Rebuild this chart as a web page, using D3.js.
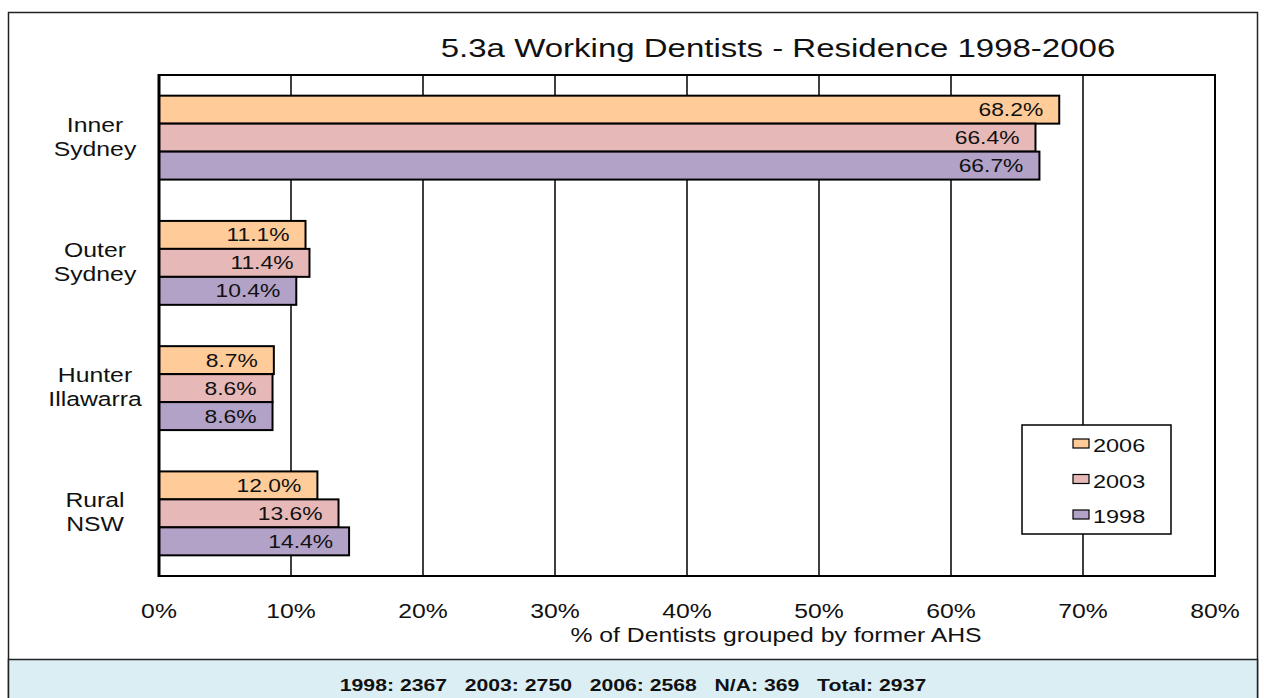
<!DOCTYPE html>
<html lang="en">
  <head>
    <meta charset="UTF-8" />
    <script src="https://d3js.org/d3.v7.min.js"></script>
    <title>Working Dentists - Residence</title>
    <style>
      body {
        margin: 0;
        background: #fff;
        font-family: "Liberation Sans", Arial, sans-serif;
      }
      svg text {
        fill: #111;
      }
    </style>
  </head>
  <body>
    <svg id="chart" width="1264" height="698"></svg>
    <script>
      const categories = [["Inner", "Sydney"], ["Outer", "Sydney"], ["Hunter", "Illawarra"], ["Rural", "NSW"]];
      const years = ["2006", "2003", "1998"];
      const values2006 = [68.2, 11.1, 8.7, 12.0];
      const values2003 = [66.4, 11.4, 8.6, 13.6];
      const values1998 = [66.7, 10.4, 8.6, 14.4];
      const xTicks = [0, 10, 20, 30, 40, 50, 60, 70, 80];
      const footer = "1998: 2367   2003: 2750   2006: 2568   N/A: 369   Total: 2937";

      const colors = { "2006": "#ffcc99", "2003": "#e6b9b8", "1998": "#b3a2c7" };
      const series = { "2006": values2006, "2003": values2003, "1998": values1998 };

      const svg = d3.select("#chart");
      const plot = { left: 159, right: 1215, top: 75, bottom: 576 };
      const SX = 1.27; // the original text is drawn wide

      // text stretched horizontally, anchored at (x, y)
      function label(parent, x, y, size, anchor, txt, bold) {
        return parent.append("text")
          .attr("transform", `translate(${x},${y}) scale(${SX},1)`)
          .attr("text-anchor", anchor)
          .attr("xml:space", "preserve")
          .style("font-size", size + "px")
          .style("font-weight", bold ? "bold" : "normal")
          .text(txt);
      }

      // outer frame + footer panel
      svg.append("rect")
        .attr("x", 8.5).attr("y", 12.5)
        .attr("width", 1249).attr("height", 700)
        .attr("fill", "#fff").attr("stroke", "#222").attr("stroke-width", 1.5);
      svg.append("rect")
        .attr("x", 8.5).attr("y", 659.5)
        .attr("width", 1249).attr("height", 60)
        .attr("fill", "#daeef3").attr("stroke", "#222").attr("stroke-width", 1.5);
      label(svg, 633, 691, 16.7, "middle", footer, true);

      const x = d3.scaleLinear().domain([0, 80]).range([plot.left, plot.right]);
      const y0 = d3.scaleBand().domain(d3.range(categories.length))
        .range([plot.top, plot.bottom]).paddingInner(0.33).paddingOuter(0.165);
      const y1 = d3.scaleBand().domain(years).range([0, y0.bandwidth()]);

      label(svg, 778, 57, 26, "middle", "5.3a Working Dentists - Residence 1998-2006");

      // gridlines
      svg.append("g")
        .selectAll("line")
        .data(xTicks.slice(1))
        .join("line")
        .attr("x1", d => x(d)).attr("x2", d => x(d))
        .attr("y1", plot.top).attr("y2", plot.bottom)
        .attr("stroke", "#000").attr("stroke-width", 1.5);

      svg.append("rect")
        .attr("x", plot.left).attr("y", plot.top)
        .attr("width", plot.right - plot.left).attr("height", plot.bottom - plot.top)
        .attr("fill", "none").attr("stroke", "#000").attr("stroke-width", 2);

      // bars
      const groups = svg.append("g")
        .selectAll("g")
        .data(categories)
        .join("g")
        .attr("transform", (d, i) => `translate(0,${y0(i)})`);

      groups.each(function(cat, i) {
        const g = d3.select(this);
        const rows = years.map(yr => ({ yr, v: series[yr][i] }));
        g.selectAll("rect")
          .data(rows)
          .join("rect")
          .attr("x", x(0))
          .attr("y", d => y1(d.yr))
          .attr("width", d => x(d.v) - x(0))
          .attr("height", y1.bandwidth())
          .attr("fill", d => colors[d.yr])
          .attr("stroke", "#000").attr("stroke-width", 2);
        rows.forEach(d => {
          label(g, x(d.v) - 16, y1(d.yr) + y1.bandwidth() / 2 + 6.5, 18, "end", d.v.toFixed(1) + "%");
        });
      });

      svg.append("line")
        .attr("x1", plot.left).attr("x2", plot.left)
        .attr("y1", plot.top - 1).attr("y2", plot.bottom + 1)
        .attr("stroke", "#000").attr("stroke-width", 3);

      // category labels
      categories.forEach((lines, i) => {
        const cy = y0(i) + y0.bandwidth() / 2;
        lines.forEach((t, j) => label(svg, 95, cy - 6 + j * 24, 19.5, "middle", t));
      });

      // x tick labels
      xTicks.forEach(t => label(svg, x(t), 618, 19.5, "middle", t + "%"));
      label(svg, 776, 642, 19.5, "middle", "% of Dentists grouped by former AHS");

      // legend
      const legend = svg.append("g").attr("transform", "translate(1022,425)");
      legend.append("rect")
        .attr("width", 149).attr("height", 109)
        .attr("fill", "#fff").attr("stroke", "#000").attr("stroke-width", 1.5);
      years.forEach((yr, i) => {
        const ly = 27 + i * 35.5;
        legend.append("rect")
          .attr("x", 51).attr("y", ly - 13)
          .attr("width", 16).attr("height", 9)
          .attr("fill", colors[yr])
          .attr("stroke", "#000").attr("stroke-width", 1.2);
        label(legend, 71, ly, 18.5, "start", yr);
      });
    </script>
  </body>
</html>
